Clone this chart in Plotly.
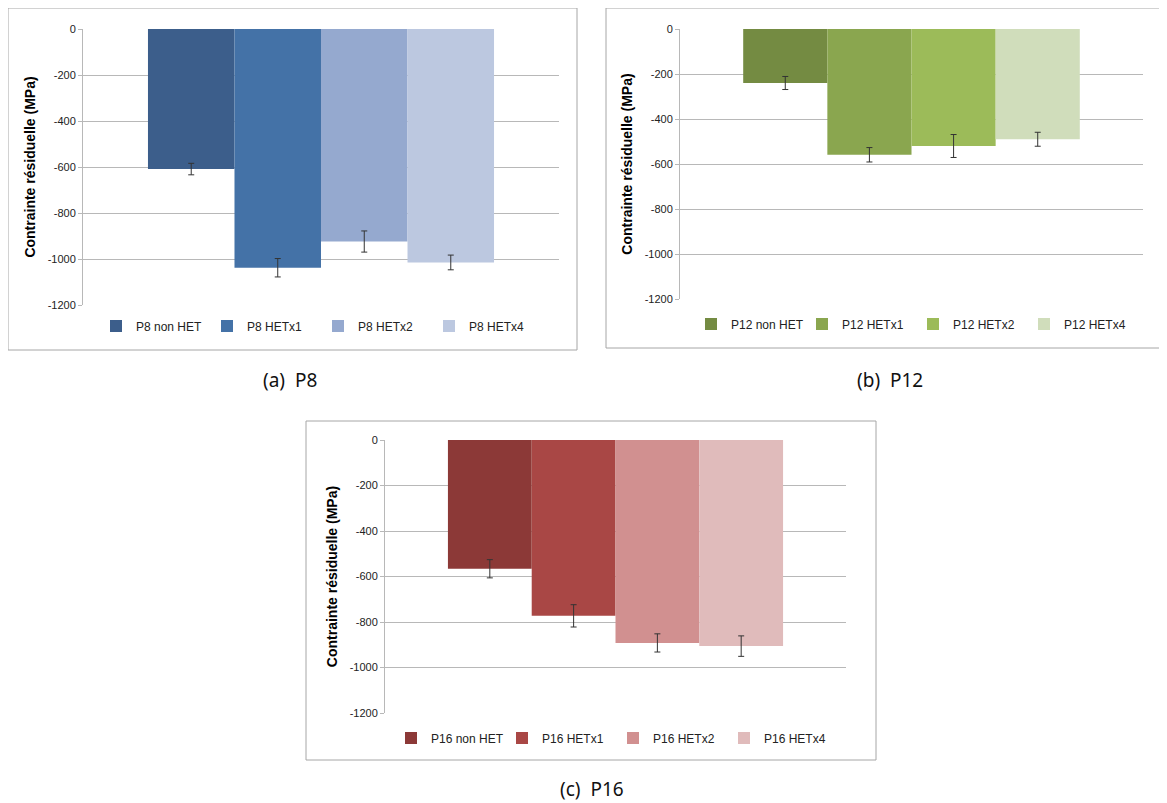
import plotly.graph_objects as go

# page has an 8px body margin: the figure is placed at (8, 8)
OFF = 8
W, H = 1167 - 2 * OFF, 803 - OFF

# ---- data ----
p8_names = ["P8 non HET", "P8 HETx1", "P8 HETx2", "P8 HETx4"]
p8_values = [-609, -1038, -924, -1015]
p8_errors = [25, 40, 46, 32]
p8_colors = ["#3C5E8B", "#4472A7", "#95A9CF", "#BCC8E0"]

p12_names = ["P12 non HET", "P12 HETx1", "P12 HETx2", "P12 HETx4"]
p12_values = [-240, -559, -520, -490]
p12_errors = [29, 32, 51, 31]
p12_colors = ["#748B42", "#8AA64F", "#9CBB59", "#D0DDBB"]

p16_names = ["P16 non HET", "P16 HETx1", "P16 HETx2", "P16 HETx4"]
p16_values = [-566, -773, -892, -906]
p16_errors = [40, 49, 40, 45]
p16_colors = ["#8C3937", "#A94745", "#D19090", "#E0BBBB"]

y_ticks = [0, -200, -400, -600, -800, -1000, -1200]
y_title = "Contrainte résiduelle (MPa)"
captions = ["(a)  P8", "(b)  P12", "(c)  P16"]


def px_x(p):
    return (p - OFF) / W


def px_y(p):
    return 1 - (p - OFF) / H


fig = go.Figure()

panels = [
    (p8_names, p8_values, p8_errors, p8_colors, "x", "y", "legend"),
    (p12_names, p12_values, p12_errors, p12_colors, "x2", "y2", "legend2"),
    (p16_names, p16_values, p16_errors, p16_colors, "x3", "y3", "legend3"),
]

for names, vals, errs, cols, xa, ya, lg in panels:
    for n, v, e, c in zip(names, vals, errs, cols):
        fig.add_trace(go.Bar(
            x=["g"], y=[v], name=n, xaxis=xa, yaxis=ya, legend=lg,
            marker=dict(color=c, line=dict(width=0)),
            error_y=dict(type="data", array=[e], visible=True,
                         color="#333333", thickness=1, width=3),
        ))

tick_font = dict(family="Liberation Sans, Arial, sans-serif", size=11, color="#222222")
title_font = dict(family="Liberation Sans, Arial, sans-serif", size=14, color="#000000",
                  weight="bold")


def yaxis_cfg(domain, anchor):
    return dict(
        domain=domain, anchor=anchor, range=[-1200, 0], tickvals=y_ticks,
        ticktext=[str(t) for t in y_ticks], showgrid=True, gridcolor="#B8B8B8",
        gridwidth=1, zeroline=False, showline=True, linecolor="#B8B8B8",
        linewidth=1, ticks="outside", ticklen=4, tickcolor="#B8B8B8",
        tickfont=tick_font, title=dict(text=y_title, font=title_font, standoff=8),
        automargin=False, fixedrange=True,
    )


def xaxis_cfg(domain, anchor):
    return dict(domain=domain, anchor=anchor, showticklabels=False,
                showgrid=False, zeroline=False, showline=False, ticks="",
                automargin=False, fixedrange=True)


fig.update_layout(
    width=W, height=H, autosize=False,
    margin=dict(l=0, r=0, t=0, b=0, pad=0),
    paper_bgcolor="white", plot_bgcolor="white",
    barmode="group", bargap=0.273, bargroupgap=0,
    xaxis=xaxis_cfg([px_x(83), px_x(559)], "y"),
    yaxis=yaxis_cfg([px_y(305), px_y(29)], "x"),
    xaxis2=xaxis_cfg([px_x(680), px_x(1143)], "y2"),
    yaxis2=yaxis_cfg([px_y(299), px_y(29)], "x2"),
    xaxis3=xaxis_cfg([px_x(385), px_x(846)], "y3"),
    yaxis3=yaxis_cfg([px_y(713), px_y(440)], "x3"),
)

leg_font = dict(family="Liberation Sans, Arial, sans-serif", size=12, color="#222222")
leg_common = dict(orientation="h", font=leg_font, bgcolor="rgba(0,0,0,0)",
                  xanchor="left", yanchor="middle", itemclick=False,
                  itemdoubleclick=False, entrywidth=66, entrywidthmode="pixels",
                  traceorder="normal", itemwidth=30)
fig.update_layout(
    legend=dict(x=px_x(96), y=px_y(326), **leg_common),
    legend2=dict(x=px_x(691), y=px_y(324), **leg_common),
    legend3=dict(x=px_x(391), y=px_y(738), **leg_common),
)

# panel frames
frames = [(8, 8, 577, 350), (606, 8, 1166, 348), (306, 421, 876, 760)]
for x0, y0, x1, y1 in frames:
    fig.add_shape(type="rect", xref="paper", yref="paper",
                  x0=px_x(x0), x1=px_x(x1), y0=px_y(y1), y1=px_y(y0),
                  line=dict(color="#A6A6A6", width=1), fillcolor="rgba(0,0,0,0)",
                  layer="below")

cap_font = dict(family="Noto Sans, DejaVu Sans, sans-serif", size=19, color="#111111")
for text, cx, cy in zip(captions, [290, 890, 592], [380, 380, 789]):
    fig.add_annotation(text=text, x=px_x(cx), y=px_y(cy), xref="paper", yref="paper",
                       showarrow=False, font=cap_font, xanchor="center", yanchor="middle")

fig.write_html("out.html")
